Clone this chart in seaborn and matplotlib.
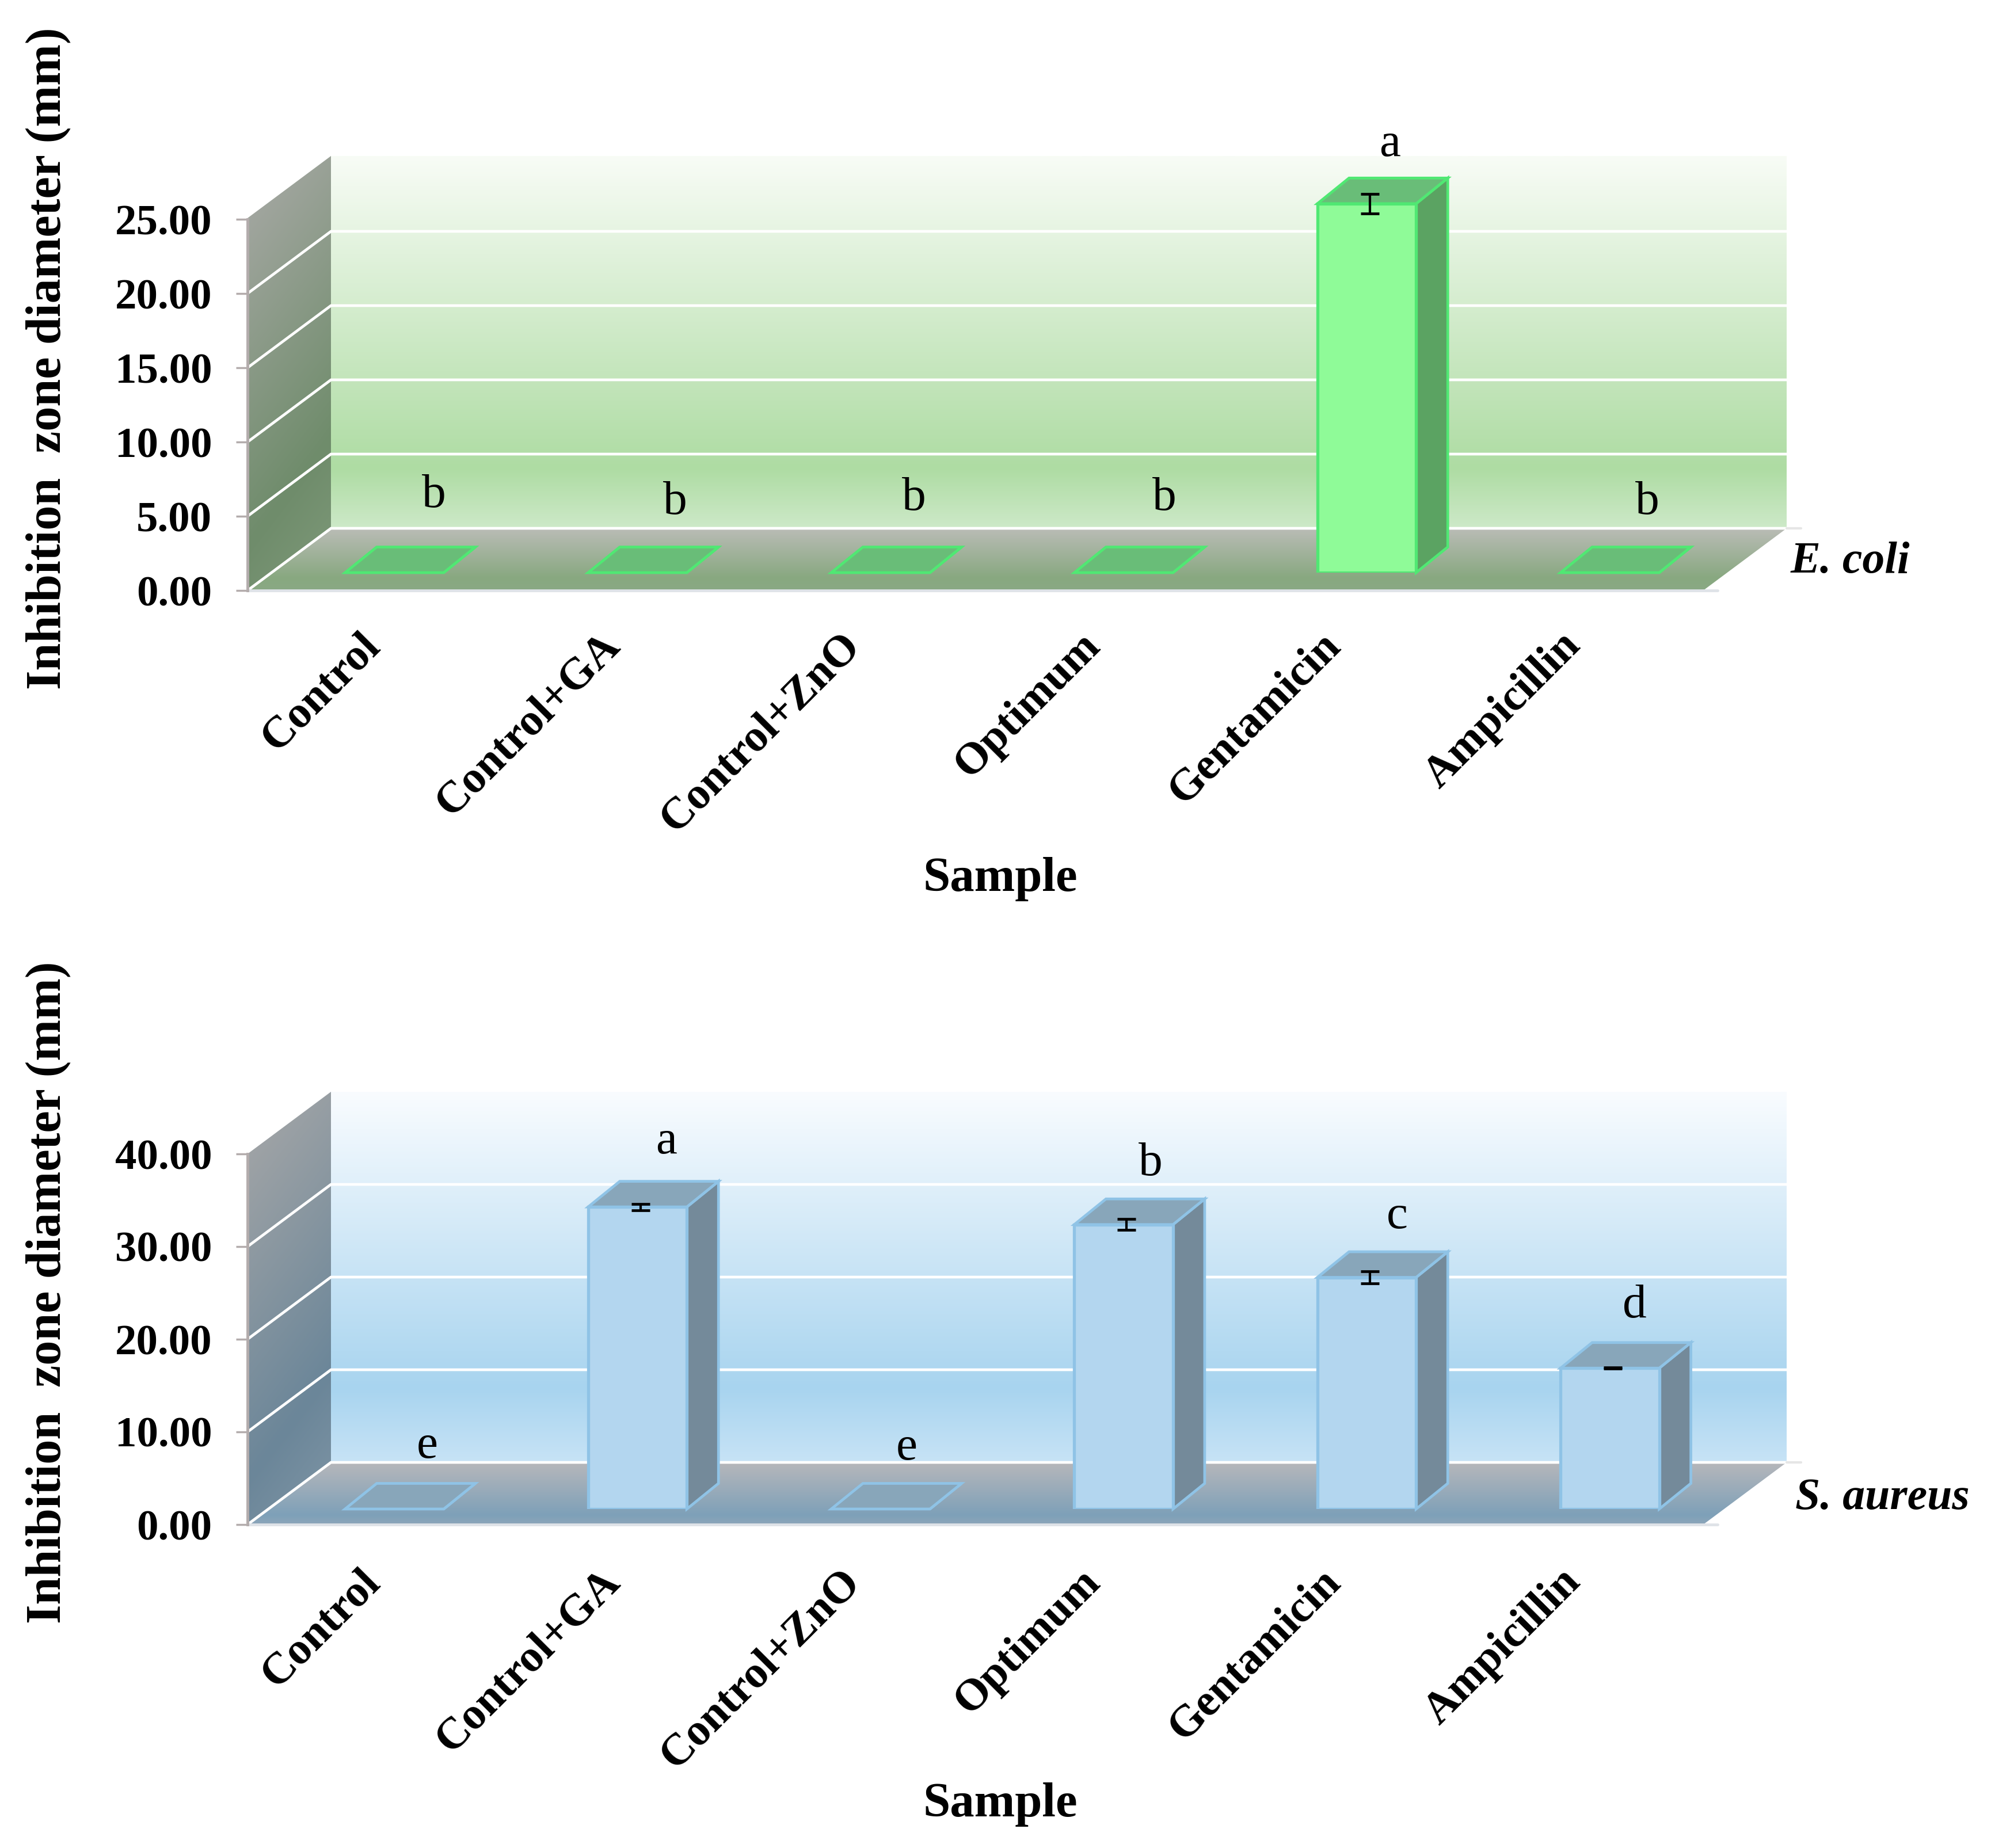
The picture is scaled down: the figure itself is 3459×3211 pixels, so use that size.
import numpy as np
import pandas as pd
import seaborn as sns
from matplotlib import pyplot as plt
from matplotlib.colors import to_rgb
from matplotlib.patches import Polygon
from matplotlib.transforms import ScaledTranslation

samples = ["Control", "Control+GA", "Control+ZnO", "Optimum", "Gentamicin", "Ampicillin"]

ecoli_values = [0, 0, 0, 0, 24.85, 0]
ecoli_errors = [0, 0, 0, 0, 0.66, 0]
ecoli_letters = ["b", "b", "b", "b", "a", "b"]
ecoli_ticks = [0, 5, 10, 15, 20, 25]

aureus_values = [0, 32.6, 0, 30.7, 25.0, 15.2]
aureus_errors = [0, 0.35, 0, 0.6, 0.65, 0.05]
aureus_letters = ["e", "a", "e", "b", "c", "d"]
aureus_ticks = [0, 10, 20, 30, 40]

W, H = 3459, 3211
SERIF = ["Liberation Serif", "DejaVu Serif"]

sns.set_style("white")
plt.rcParams["font.family"] = SERIF
plt.rcParams["font.weight"] = "bold"
plt.rcParams["text.color"] = "black"
plt.rcParams["axes.labelcolor"] = "black"
plt.rcParams["xtick.labelcolor"] = "black"
plt.rcParams["ytick.labelcolor"] = "black"


def rect(left, right, top, bottom):
    return [left / W, 1 - bottom / H, (right - left) / W, (bottom - top) / H]


def ramp(t, stops):
    pos = [s[0] for s in stops]
    rgb = np.array([to_rgb(s[1]) for s in stops])
    return np.stack([np.interp(t, pos, rgb[:, i]) for i in range(3)], axis=-1)


def gradient_poly(ax, pts, img):
    xs, ys = zip(*pts)
    im = ax.imshow(img, extent=(min(xs), max(xs), min(ys), max(ys)), origin="upper",
                   aspect="auto", interpolation="bilinear", zorder=0)
    im.set_clip_path(Polygon(pts, transform=ax.transData))


def draw_box(ax, ticks, unit, cols):
    xl, xr = -0.5, 5.5
    dx = 145 / 421.5
    dy = 108 / unit
    top = ax.get_ylim()[1]

    v = np.linspace(0, 1, 256)[:, None]
    back = ramp(v[:, 0], cols["back"])[:, None, :]
    floor = ramp(v[:, 0], cols["floor"])[:, None, :]
    gx, gy = np.meshgrid(np.linspace(0, 1, 128), np.linspace(0, 1, 256))
    side = ramp(gy * 0.8 + gx * 0.2, cols["side"])

    gradient_poly(ax, [(xl + dx, dy), (xr + dx, dy), (xr + dx, top), (xl + dx, top)], back)
    gradient_poly(ax, [(xl, 0), (xl + dx, dy), (xl + dx, top), (xl, top - dy)], side)
    gradient_poly(ax, [(xl, 0), (xr, 0), (xr + dx, dy), (xl + dx, dy)], floor)

    for t in ticks[:-1]:
        ax.plot([xl, xl + dx, xr + dx], [t, t + dy, t + dy], color="white", lw=3.4, zorder=1)
    ax.plot([xr + dx, xr + dx + 0.06], [dy, dy], color="#e6e6e6", lw=3, clip_on=False)
    ax.plot([xl, xr + 0.06], [0, 0], color="#dfe3e8", lw=3.5, clip_on=False)


def draw_bars(ax, values, errors, cols, unit):
    ox = 55 / 422.4
    oy = 44.5 / unit
    w = 0.406
    df = pd.DataFrame({"sample": samples, "value": values})
    sns.barplot(data=df, x="sample", y="value", ax=ax, color=cols["face"], saturation=1,
                width=w, edgecolor=cols["edge"], linewidth=3.8, zorder=3)
    for i, val in enumerate(values):
        x0, x1 = i - w / 2, i + w / 2
        ax.fill([x1, x1 + ox, x1 + ox, x1], [0, oy, val + oy, val], facecolor=cols["bar_side"],
                edgecolor=cols["edge"], lw=3.4, zorder=2, clip_on=False)
        ax.fill([x0, x1, x1 + ox, x0 + ox], [val, val, val + oy, val + oy], facecolor=cols["bar_top"],
                edgecolor=cols["edge"], lw=3.4, zorder=2, clip_on=False)
    for i, (val, err) in enumerate(zip(values, errors)):
        if val > 0:
            ax.errorbar(i + 0.012, val, yerr=err, fmt="none", ecolor="black", elinewidth=3,
                        capsize=11.5, capthick=3.4, zorder=6, clip_on=False)


def panel(values, errors, letters, ticks, unit, y0_front, y0_bar, y_top, cols,
          letter_x, letter_y, species, species_x, ylabel_y, xlabel_y):
    ax_front = fig.add_axes(rect(430, 3104, y_top, y0_front), zorder=1)
    ax_bars = fig.add_axes(rect(474, 3008, y_top, y0_bar), zorder=2)

    ax_front.set_xlim(-0.5, 5.5 + 145 / 421.5)
    ax_front.set_ylim(0, (y0_front - y_top) / unit)
    draw_box(ax_front, ticks, unit, cols)
    ax_front.set_xlim(-0.5, 5.5 + 145 / 421.5)
    ax_front.set_ylim(0, (y0_front - y_top) / unit)

    for s in ["top", "right", "bottom"]:
        ax_front.spines[s].set_visible(False)
    ax_front.spines["left"].set_bounds(0, ticks[-1])
    ax_front.spines["left"].set_color("#b3acac")
    ax_front.spines["left"].set_linewidth(3.5)
    ax_front.set_xticks([])
    ax_front.set_yticks(ticks)
    ax_front.set_yticklabels([f"{t:.2f}" for t in ticks], fontsize=54, fontweight="bold")
    ax_front.tick_params(axis="y", length=14.5, width=2.5, color="#b3acac", pad=30, left=True)
    ax_front.set_ylabel("Inhibition  zone diameter (mm)", fontsize=62, fontweight="bold")
    ax_front.yaxis.set_label_coords(123 / W, 1 - ylabel_y / H, transform=fig.transFigure)

    draw_bars(ax_bars, values, errors, cols, unit)
    ax_bars.set_xlim(-0.5, 5.5)
    ax_bars.set_ylim(0, (y0_bar - y_top) / unit)
    ax_bars.patch.set_visible(False)
    for s in ax_bars.spines.values():
        s.set_visible(False)
    ax_bars.set_ylabel("")
    ax_bars.set_yticks([])
    ax_bars.set_xlabel("Sample", fontsize=61, fontweight="bold", va="center")
    ax_bars.xaxis.set_label_coords(1738 / W, 1 - xlabel_y / H, transform=fig.transFigure)
    ax_bars.tick_params(axis="x", length=0, pad=84)
    for i, lab in enumerate(ax_bars.get_xticklabels()):
        shift = ScaledTranslation((-36 - 5.3 * i) / 100, 0, fig.dpi_scale_trans)
        lab.set_fontsize(56)
        lab.set_fontweight("bold")
        lab.set_rotation(45)
        lab.set_rotation_mode("anchor")
        lab.set_ha("right")
        lab.set_va("center")
        lab.set_transform(lab.get_transform() + shift)

    for lt, lx, ly in zip(letters, letter_x, letter_y):
        fig.text(lx / W, 1 - ly / H, lt, fontsize=60, fontweight="normal", ha="center",
                 va="baseline", zorder=10)
    fig.text(species_x / W, 1 - y0_bar / H, species, fontsize=56, fontweight="bold",
             fontstyle="italic", ha="left", va="baseline", zorder=10)


green = {
    "back": [(0, "#f8fcf6"), (0.84, "#aedca3"), (1, "#cde9c8")],
    "side": [(0, "#aaaaa8"), (0.72, "#6f8c6b"), (1, "#7f9a7a")],
    "floor": [(0, "#babcb6"), (0.8, "#88a880"), (1, "#8aa984")],
    "face": "#8ffb98",
    "edge": "#50e873",
    "bar_side": "#5ba362",
    "bar_top": "#69bd78",
}
blue = {
    "back": [(0, "#f9fcff"), (0.8, "#a8d4ef"), (1, "#c7e3f6")],
    "side": [(0, "#a8a8a8"), (0.72, "#6b8699"), (1, "#8096a6")],
    "floor": [(0, "#b6b7bb"), (0.85, "#7ea0b8"), (1, "#8ea6ba")],
    "face": "#b3d6ef",
    "edge": "#8fc3e6",
    "bar_side": "#748a9a",
    "bar_top": "#88a6ba",
}

fig = plt.figure(figsize=(W / 100, H / 100), dpi=100, facecolor="white")

panel(ecoli_values, ecoli_errors, ecoli_letters, ecoli_ticks, 25.8, 1026, 995, 271, green,
      [754, 1173, 1588, 2023, 2415, 2862], [881, 893, 886, 886, 271, 893],
      "E. coli", 3111, 623, 1528)
panel(aureus_values, aureus_errors, aureus_letters, aureus_ticks, 16.1, 2649, 2622, 1897, blue,
      [742, 1158, 1575, 1999, 2427, 2840], [2533, 2004, 2536, 2042, 2134, 2289],
      "S. aureus", 3119, 2246, 3136)

fig.savefig("out.png", dpi=100)
